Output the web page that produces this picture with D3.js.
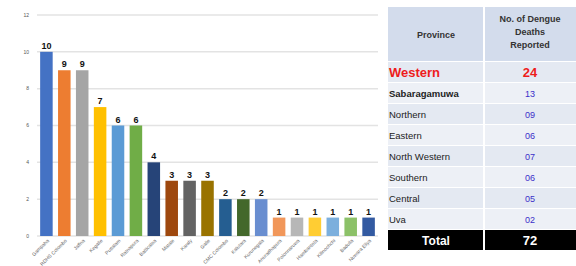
<!DOCTYPE html>
<meta charset="utf-8">
<style>
 body { margin: 0; background: #fff; }
 svg { font-family: "Liberation Sans", Arial, sans-serif; }
 .grid line { stroke: #e3e3e3; stroke-width: 1.5; }
 .ytick { fill: #555; font-size: 5px; }
 .xlab { fill: #666; font-size: 5px; }
 .vlab { fill: #111; font-size: 9px; font-weight: bold; }
</style>
<svg width="576" height="266"></svg>
<script src="https://cdn.jsdelivr.net/npm/d3@7"></script>
<script>

 var districts = ['Gampaha', 'RDHS Colombo', 'Jaffna', 'Kegalle', 'Puttalam', 'Ratnapura', 'Batticaloa',
                  'Matale', 'Kandy', 'Galle', 'CMC Colombo', 'Kalutara', 'Kurunegala', 'Anuradhapura',
                  'Polonnaruwa', 'Hambantota', 'Kilinochchi', 'Badulla', 'Nuwara Eliya']
 var deaths = [10, 9, 9, 7, 6, 6, 4, 3, 3, 3, 2, 2, 2, 1, 1, 1, 1, 1, 1]
 var barColors = ['#4472c4', '#ed7d31', '#a5a5a5', '#ffc000', '#5b9bd5', '#70ad47', '#264478',
                  '#9e480e', '#636363', '#997300', '#255e91', '#43682b', '#698ed0', '#f1975a',
                  '#b7b7b7', '#ffcd33', '#7cafdd', '#8cc168', '#335aa1']
 var yTicks = [0, 2, 4, 6, 8, 10, 12]

 var provinces = ['Western', 'Sabaragamuwa', 'Northern', 'Eastern', 'North Western', 'Southern', 'Central', 'Uva']
 var provDeaths = ['24', '13', '09', '06', '07', '06', '05', '02']
 var totalLabel = 'Total'
 var totalValue = '72'

 var svg = d3.select('svg')

 // bar chart
 var x = d3.scaleBand()
           .domain(districts)
           .range([38, 377])
           .paddingInner(0.3)
           .paddingOuter(0.12)
 var y = d3.scaleLinear()
           .domain([0, 12])
           .range([236, 15])

 var grid = svg.append('g').attr('class', 'grid')
 grid.selectAll('line')
     .data(yTicks)
     .join('line')
     .attr('x1', 37)
     .attr('x2', 378)
     .attr('y1', d => y(d))
     .attr('y2', d => y(d))

 svg.append('g')
    .selectAll('text')
    .data(yTicks)
    .join('text')
    .attr('class', 'ytick')
    .attr('x', 29)
    .attr('y', d => y(d))
    .attr('dy', '0.35em')
    .attr('text-anchor', 'end')
    .text(d => d)

 svg.append('g')
    .selectAll('rect')
    .data(deaths)
    .join('rect')
    .attr('x', (d, i) => x(districts[i]))
    .attr('width', x.bandwidth())
    .attr('y', d => y(d))
    .attr('height', d => y(0) - y(d))
    .attr('fill', (d, i) => barColors[i])

 svg.append('g')
    .selectAll('text')
    .data(deaths)
    .join('text')
    .attr('class', 'vlab')
    .attr('x', (d, i) => x(districts[i]) + x.bandwidth() / 2)
    .attr('y', d => y(d) - 3)
    .attr('text-anchor', 'middle')
    .text(d => d)

 svg.append('g')
    .selectAll('text')
    .data(districts)
    .join('text')
    .attr('class', 'xlab')
    .attr('transform', d => `translate(${x(d) + x.bandwidth() / 2 + 3},${y(0) + 5}) rotate(-45)`)
    .attr('text-anchor', 'end')
    .text(d => d)

 // province table
 var tx0 = 388, tx1 = 484, tx2 = 576
 var headTop = 7, headBottom = 62, rowH = 21
 var headFill = '#d3dcec'

 var rows = svg.append('g')

 rows.append('rect')
     .attr('x', tx0).attr('y', headTop)
     .attr('width', tx1 - tx0 - 1).attr('height', headBottom - headTop - 1)
     .attr('fill', headFill)
 rows.append('rect')
     .attr('x', tx1 + 1).attr('y', headTop)
     .attr('width', tx2 - tx1 - 1).attr('height', headBottom - headTop - 1)
     .attr('fill', headFill)

 rows.append('text')
     .attr('x', (tx0 + tx1) / 2).attr('y', (headTop + headBottom) / 2)
     .attr('dy', '0.35em')
     .attr('text-anchor', 'middle')
     .style('font-size', '9px').style('font-weight', 'bold').attr('fill', '#333')
     .text('Province')

 var headLines = ['No. of Dengue', 'Deaths', 'Reported']
 rows.selectAll('.hl')
     .data(headLines)
     .join('text')
     .attr('class', 'hl')
     .attr('x', (tx1 + tx2) / 2)
     .attr('y', (d, i) => 22 + i * 13)
     .attr('text-anchor', 'middle')
     .style('font-size', '9px').style('font-weight', 'bold').attr('fill', '#333')
     .text(d => d)

 var rowY = i => headBottom + i * rowH

 rows.selectAll('.bg1')
     .data(provinces)
     .join('rect')
     .attr('class', 'bg1')
     .attr('x', tx0).attr('y', (d, i) => rowY(i))
     .attr('width', tx1 - tx0 - 1).attr('height', rowH - 1)
     .attr('fill', (d, i) => i % 2 ? '#edf0f6' : '#e4e9f2')
 rows.selectAll('.bg2')
     .data(provinces)
     .join('rect')
     .attr('class', 'bg2')
     .attr('x', tx1 + 1).attr('y', (d, i) => rowY(i))
     .attr('width', tx2 - tx1 - 1).attr('height', rowH - 1)
     .attr('fill', (d, i) => i % 2 ? '#edf0f6' : '#e4e9f2')

 rows.selectAll('.pname')
     .data(provinces)
     .join('text')
     .attr('class', 'pname')
     .attr('x', tx0 + 1)
     .attr('y', (d, i) => rowY(i) + rowH / 2)
     .attr('dy', '0.35em')
     .style('font-size', (d, i) => i === 0 ? '13px' : '9.5px')
     .style('font-weight', (d, i) => i < 2 ? 'bold' : 'normal')
     .attr('fill', (d, i) => i === 0 ? '#ee1c1c' : '#222')
     .text(d => d)

 rows.selectAll('.pval')
     .data(provDeaths)
     .join('text')
     .attr('class', 'pval')
     .attr('x', (tx1 + tx2) / 2)
     .attr('y', (d, i) => rowY(i) + rowH / 2)
     .attr('dy', '0.35em')
     .attr('text-anchor', 'middle')
     .style('font-size', (d, i) => i === 0 ? '13px' : '9px')
     .style('font-weight', (d, i) => i === 0 ? 'bold' : 'normal')
     .attr('fill', (d, i) => i === 0 ? '#ee1c1c' : '#3b2fc9')
     .text(d => d)

 var totY = rowY(provinces.length)
 rows.append('rect')
     .attr('x', tx0).attr('y', totY)
     .attr('width', tx1 - tx0 - 1).attr('height', rowH - 1)
     .attr('fill', '#000')
 rows.append('rect')
     .attr('x', tx1 + 1).attr('y', totY)
     .attr('width', tx2 - tx1 - 1).attr('height', rowH - 1)
     .attr('fill', '#000')
 rows.append('text')
     .attr('x', (tx0 + tx1) / 2).attr('y', totY + rowH / 2)
     .attr('dy', '0.35em').attr('text-anchor', 'middle')
     .style('font-size', '12px').style('font-weight', 'bold').attr('fill', '#fff')
     .text(totalLabel)
 rows.append('text')
     .attr('x', (tx1 + tx2) / 2).attr('y', totY + rowH / 2)
     .attr('dy', '0.35em').attr('text-anchor', 'middle')
     .style('font-size', '13px').style('font-weight', 'bold').attr('fill', '#fff')
     .text(totalValue)

</script>
